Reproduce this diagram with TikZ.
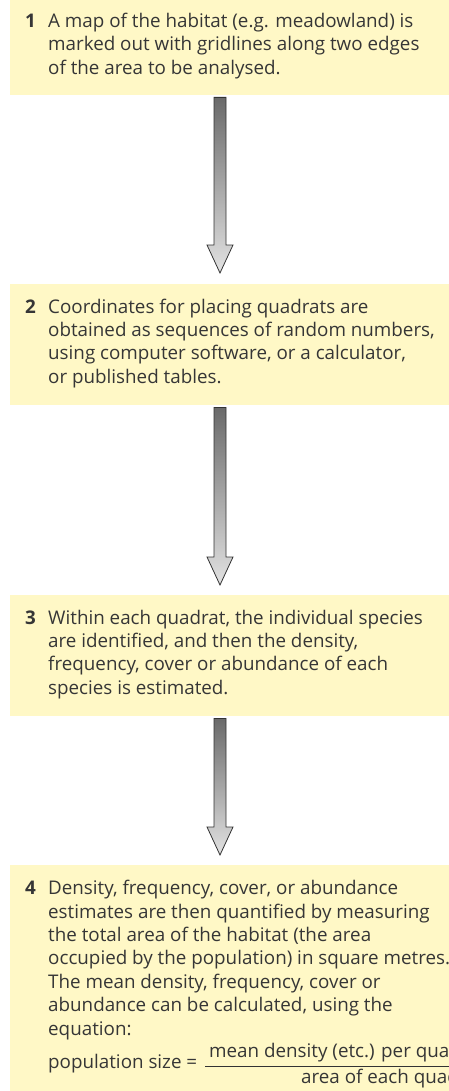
\documentclass[tikz,border=0pt]{standalone}
\usepackage{fontspec}
\setmainfont{Open Sans}
\usetikzlibrary{calc}
\definecolor{boxfill}{HTML}{FFF8C6}
\definecolor{txt}{HTML}{363636}
\definecolor{arrowdark}{HTML}{6A6A6A}
\definecolor{arrowlight}{HTML}{E2E2E2}
\definecolor{arrowline}{HTML}{333333}
\newcommand\blockarrow[2]{%
  \path[arrowstyle] let \p1=(#1), \p2=(#2) in
    (\x1-6pt,\y1) -- (\x1-6pt,\y2+28pt) -- (\x1-13pt,\y2+28pt) -- (\x1,\y2)
    -- (\x1+13pt,\y2+28pt) -- (\x1+6pt,\y2+28pt) -- (\x1+6pt,\y1) -- cycle;}
\begin{document}
\begin{tikzpicture}[x=1pt,y=-1pt,
  box/.style={fill=boxfill, draw=none, anchor=north west, inner sep=0pt, minimum width=470pt},
  body/.style={anchor=north west, inner sep=0pt, align=left, text=txt,
    font=\fontsize{18.8}{23.4}\selectfont},
  num/.style={anchor=base west, inner sep=0pt, text=txt,
    font=\fontsize{18.8}{23.4}\selectfont\bfseries},
  eq/.style={anchor=base west, inner sep=0pt, text=txt,
    font=\fontsize{18.8}{23.4}\selectfont},
  arrowstyle/.style={draw=arrowline, line width=0.8pt, top color=arrowdark, bottom color=arrowlight, line join=miter}]
\useasboundingbox (0,0) rectangle (449,1091);
\clip (0,0) rectangle (449,1091);
\coordinate (ax) at (220,0);
% boxes
\node[box, minimum height=95pt] (b1) at (10,0) {};
\node[box, minimum height=121pt] (b2) at (10,284) {};
\node[box, minimum height=121pt] (b3) at (10,595) {};
\node[box, minimum height=226pt] (b4) at (10,865) {};
% box 1
\node[num] (n1) at (25,27.3) {1};
\node[body] (t1) at (48,10.92) {\strut A map of the habitat (e.g. meadowland) is\\
marked out with gridlines along two edges\\
of the area to be analysed.};
% box 2
\node[num] (n2) at (25,313) {2};
\node[body] (t2) at (48,296.6) {\strut Coordinates for placing quadrats are\\
obtained as sequences of random numbers,\\
using computer software, or a calculator,\\
or published tables.};
% box 3
\node[num] (n3) at (25,624) {3};
\node[body] (t3) at (48,607.6) {\strut Within each quadrat, the individual species\\
are identified, and then the density,\\
frequency, cover or abundance of each\\
species is estimated.};
% box 4
\node[num] (n4) at (25,894.5) {4};
\node[body] (t4) at (48,878.1) {\strut Density, frequency, cover, or abundance\\
estimates are then quantified by measuring\\
the total area of the habitat (the area\\
occupied by the population) in square metres.\\
The mean density, frequency, cover or\\
abundance can be calculated, using the\\
equation:};
\node[eq] (lbl) at (48,1068) {population size =};
\node[eq] (num4) at (209,1057) {mean density (etc.) per quadrat};
\node[eq] (den4) at (301,1083) {area of each quadrat};
\coordinate (fl) at (205,1066);
\draw[arrowline, line width=0.8pt] (fl) -- (fl -| b4.east);
% arrows
\blockarrow{$(b1.south -| ax)+(0,2)$}{$(b2.north -| ax)+(0,-11)$}
\blockarrow{$(b2.south -| ax)+(0,2)$}{$(b3.north -| ax)+(0,-10)$}
\blockarrow{$(b3.south -| ax)+(0,2)$}{$(b4.north -| ax)+(0,-10)$}
\end{tikzpicture}
\end{document}
